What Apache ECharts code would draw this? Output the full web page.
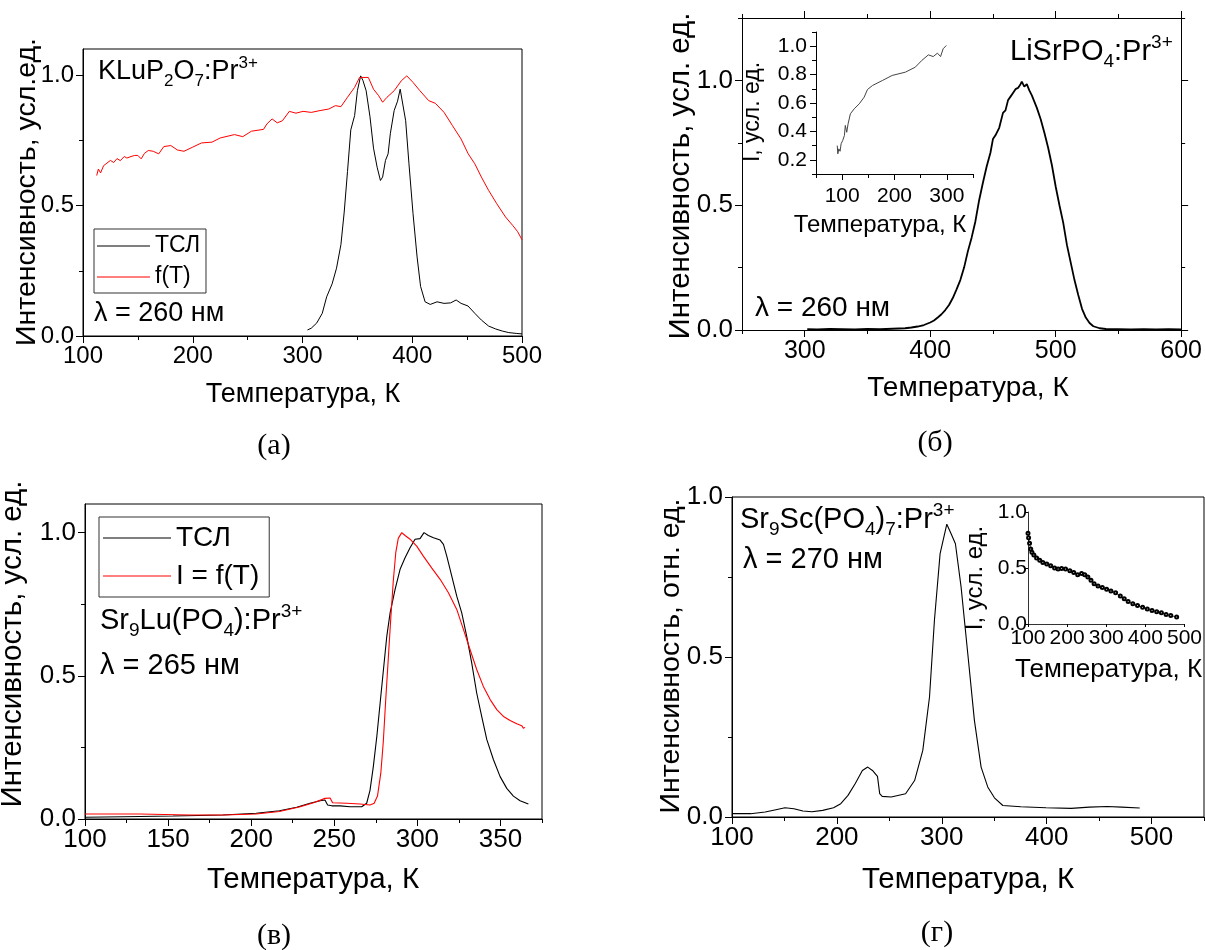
<!DOCTYPE html>
<html><head><meta charset="utf-8">
<script src="https://cdn.jsdelivr.net/npm/echarts@6/dist/echarts.min.js"></script>
<style>html,body{margin:0;padding:0;background:#fff}#c{width:1205px;height:950px}</style>
</head><body><div id="c"></div>
<script>
// ---------- (а) KLuP2O7:Pr3+ ----------
const aTslT = [304.5,308,313,318,322,327,331,335,338,341,344,347.5,350,353,355,358,361.5,364.7,368,371,373,375.6,378,380,383.5,386.6,389,390.7,394,397,400.7,404.4,407.6,411.7,416.4,422.6,429,435,440,444.5,450.8,457,463,469.6,476,482,488,494.7,500];
const aTslI = [0.023,0.03,0.05,0.087,0.15,0.2,0.26,0.35,0.475,0.63,0.79,0.845,0.94,0.997,0.98,0.94,0.84,0.72,0.647,0.596,0.609,0.673,0.698,0.775,0.864,0.9,0.946,0.943,0.825,0.66,0.469,0.303,0.19,0.131,0.121,0.131,0.125,0.127,0.138,0.125,0.115,0.087,0.061,0.038,0.027,0.019,0.013,0.01,0.008];
const aFT = [112.5,114,116,118.8,121,125,128,131,134,137.6,140,143.8,147,150,153,156,159.5,164,169,173.6,180,186,192,200,208,217.5,225,238,245.6,253.5,264.5,267.6,272.3,277,281.7,288,294,300.5,308,316,324,330,335,341,347.5,352,357,360,364.7,369.4,373,377,383.5,390,395,400.7,407,415,421,429,436.7,444.5,451,457,463,469.6,477,485,491.5,496,500];
const aFI = [0.615,0.64,0.625,0.653,0.66,0.673,0.665,0.68,0.672,0.688,0.682,0.688,0.692,0.692,0.679,0.7,0.711,0.708,0.698,0.726,0.73,0.713,0.708,0.724,0.74,0.743,0.759,0.772,0.764,0.785,0.792,0.813,0.832,0.817,0.825,0.861,0.854,0.861,0.857,0.864,0.87,0.883,0.879,0.915,0.953,0.991,0.991,0.991,0.946,0.921,0.896,0.915,0.94,0.978,0.997,0.972,0.94,0.902,0.892,0.857,0.806,0.755,0.698,0.66,0.609,0.558,0.507,0.456,0.424,0.4,0.369];
// ---------- (б) LiSrPO4:Pr3+ ----------
const bTslT = [302,310,320,330,340,350,360,370,380,385,390,395,400,403,406,409,412,415,418,421,424,427,430,433,436,439,442,445,448,450,452,455,458,460,462,464,466,468,470,472,473,475,477,479,481,483,485,488,491,494,497,500,503,506,509,512,515,518,521,524,527,530,535,540,550,560,570,580,590,600];
const bTslI = [0.003,0.002,0.004,0.003,0.002,0.004,0.003,0.005,0.007,0.01,0.014,0.02,0.03,0.038,0.05,0.063,0.08,0.1,0.128,0.163,0.2,0.25,0.315,0.37,0.435,0.52,0.59,0.655,0.71,0.765,0.78,0.81,0.87,0.88,0.92,0.935,0.95,0.965,0.97,0.985,0.995,0.975,0.985,0.96,0.94,0.915,0.89,0.845,0.79,0.73,0.66,0.575,0.5,0.43,0.34,0.27,0.2,0.14,0.085,0.05,0.028,0.015,0.007,0.004,0.003,0.002,0.003,0.002,0.003,0.002];
const bInT = [90.6,91.7,93.6,96,98,101,104.3,106,108.7,111.3,115.7,123,132.6,142,148.4,157.8,176.6,195.5,220.7,239.6,252,264.7,274,282,288,293,296,299];
const bInI = [0.30,0.242,0.277,0.26,0.313,0.336,0.371,0.442,0.394,0.453,0.524,0.559,0.594,0.641,0.695,0.723,0.758,0.794,0.817,0.852,0.899,0.939,0.927,0.951,0.927,0.982,0.975,1.005];
// ---------- (в) Sr9Lu(PO4):Pr3+ ----------
const cTslT = [100,123,153,183,203,217,227.4,235.4,241.5,244.4,246,248.5,253.5,259.5,266.5,269.5,271.5,273.5,275.6,277.6,279.6,281.6,283.6,286.6,289.6,292.6,295.6,298.6,301.6,304,306.6,309.7,313.7,315.7,317.7,320.7,323.7,326.7,329.7,332.7,335.7,338.7,341.8,345.8,349.8,353.8,357.8,361.8,366.8];
const cTslI = [0.006,0.008,0.0105,0.014,0.02,0.029,0.041,0.055,0.064,0.0665,0.049,0.046,0.046,0.043,0.043,0.055,0.1,0.183,0.288,0.405,0.522,0.638,0.72,0.802,0.872,0.912,0.947,0.977,0.979,1.0,0.99,0.982,0.974,0.959,0.918,0.848,0.778,0.72,0.638,0.545,0.44,0.358,0.277,0.207,0.148,0.107,0.08,0.064,0.0525];
const cFT = [100,133,163,183,203,217,229.5,237.5,244.4,247.5,249,257.5,265.5,271.5,274,276,278,279.5,281,282.5,284,285.5,287,288.5,290.6,292.6,295.6,299.6,303.6,308.6,313.7,318.7,323.7,327.7,331.7,335.7,339.7,343.8,347.8,351.8,355.8,359.8,362.8,363.8,364.8];
const cFI = [0.0175,0.0175,0.014,0.014,0.0175,0.026,0.043,0.057,0.072,0.0735,0.057,0.055,0.0525,0.049,0.055,0.08,0.16,0.27,0.42,0.56,0.7,0.83,0.93,0.98,1.0,0.99,0.977,0.953,0.918,0.877,0.837,0.79,0.732,0.662,0.592,0.522,0.463,0.417,0.382,0.358,0.344,0.333,0.326,0.317,0.32];
// ---------- (г) Sr9Sc(PO4)7:Pr3+ ----------
const dTslT = [100,117.9,131.6,141.9,150.5,159,167.6,176.2,186.5,196.8,203.7,210.6,217.4,224.3,229.4,233.9,238.7,240.8,243.2,251.8,265.5,274.1,281.9,288.3,293,298.4,304.8,308.9,313,318.4,324.8,331.1,337.5,343.8,350.2,358.2,375.4,399.4,423.4,440.6,457.8,471.5,488.7];
const dTslI = [0.0104,0.0104,0.0156,0.0229,0.029,0.026,0.0187,0.0166,0.0208,0.029,0.0416,0.0676,0.104,0.1455,0.156,0.1455,0.127,0.073,0.0644,0.0624,0.0728,0.114,0.208,0.375,0.615,0.823,0.915,0.885,0.854,0.719,0.51,0.302,0.156,0.094,0.06,0.036,0.032,0.029,0.027,0.031,0.033,0.031,0.028];
const dInT = [100,101.5,104,107,110,115,122,130,138,148,158,168,177,186,196,207,217,227,237,245,253,261,269,279,290,301,312,324,336,346,356,368,380,393,405,417,429,441,453,465,480];
const dInI = [0.81,0.77,0.72,0.67,0.64,0.615,0.59,0.57,0.55,0.535,0.52,0.5,0.49,0.495,0.49,0.475,0.46,0.44,0.45,0.44,0.42,0.39,0.36,0.34,0.325,0.31,0.295,0.28,0.25,0.225,0.2,0.18,0.165,0.15,0.135,0.12,0.11,0.1,0.085,0.075,0.062];
// ---------- tick values ----------
const aXMajor = [100,200,300,400,500], aXMinor = [150,250,350,450];
const yMajor = [0,0.5,1.0], yMinor = [0.25,0.75];
const bXMajor = [300,400,500,600], bXMinor = [250,350,450,550];
const bYMinor = [0.25,0.75,1.25];
const cXMajor = [100,150,200,250,300,350], cXMinor = [125,175,225,275,325,375];
const dXMajor = [100,200,300,400,500], dXMinor = [150,250,350,450,550];
const biXMajor = [100,200,300], biXMinor = [50,150,250,350];
const biYMajor = [0.2,0.4,0.6,0.8,1.0], biYMinor = [0.1,0.3,0.5,0.7,0.9,1.1];
const diXMajor = [100,200,300,400,500], diYMajor = [0,0.5,1.0];

const FONT = '"Liberation Sans", Arial, sans-serif';
const SERIF = '"Liberation Serif", "Times New Roman", serif';
const f1 = v => Number(v).toFixed(1);
const f0 = v => String(Math.round(v));
const zip = (xs, ys) => xs.map((x, i) => [x, ys[i]]);

const xA = [], yA = [];
function ax(list, g, pos, min, max, major, minor, labels, fmt, fs, opt) {
  opt = opt || {};
  list.push({
    type: 'value', gridIndex: g, position: pos, min: min, max: max, silent: true,
    splitLine: {show: false},
    axisLine: {show: opt.line !== false, onZero: false, lineStyle: {color: opt.lc || '#000', width: 1}},
    axisTick: {show: !!major, customValues: major || [], length: opt.tl || 7, lineStyle: {color: '#000', width: 1}},
    axisLabel: labels ? {show: true, customValues: labels, formatter: fmt, fontSize: fs, fontFamily: FONT, color: '#000', margin: opt.margin == null ? 8 : opt.margin} : {show: false}
  });
  const idx = list.length - 1;
  if (minor) {
    list.push({
      type: 'value', gridIndex: g, position: pos, min: min, max: max, silent: true,
      splitLine: {show: false}, axisLine: {show: false, onZero: false},
      axisTick: {show: true, customValues: minor, length: opt.ml || 4, lineStyle: {color: '#000', width: 1}},
      axisLabel: {show: false}
    });
  }
  return idx;
}
// (а)
const axA = ax(xA, 0, 'bottom', 100, 500, aXMajor, aXMinor, aXMajor, f0, 24, {margin: 8});
const ayA = ax(yA, 0, 'left', 0, 1.1, yMajor, yMinor, yMajor, f1, 24, {margin: 9});
// (б)
const axB = ax(xA, 1, 'bottom', 250, 600, bXMajor, bXMinor, bXMajor, f0, 25, {margin: 9});
ax(xA, 1, 'top', 250, 600, bXMajor, bXMinor, null);
const ayB = ax(yA, 1, 'left', 0, 1.25, yMajor, bYMinor, yMajor, f1, 26, {margin: 9});
ax(yA, 1, 'right', 0, 1.25, yMajor, bYMinor, null);
// (в)
const axC = ax(xA, 2, 'bottom', 100, 375, cXMajor, cXMinor, cXMajor, f0, 26, {margin: 8});
const ayC = ax(yA, 2, 'left', 0, 1.1, yMajor, yMinor, yMajor, f1, 26, {margin: 9});
// (г)
const axD = ax(xA, 3, 'bottom', 100, 550, dXMajor, dXMinor, dXMajor, f0, 26, {margin: 8});
const ayD = ax(yA, 3, 'left', 0, 1.0, yMajor, yMinor, yMajor, f1, 26, {margin: 9});
// inset (б)
const axBi = ax(xA, 4, 'bottom', 50, 350, biXMajor, biXMinor, biXMajor, f0, 21, {margin: 12, tl: 6, ml: 4});
const ayBi = ax(yA, 4, 'left', 0.1, 1.1, biYMajor, biYMinor, biYMajor, f1, 21, {margin: 9, tl: 6, ml: 4});
// inset (г)
const axDi = ax(xA, 5, 'bottom', 100, 500, diXMajor, null, diXMajor, f0, 21, {margin: 4, tl: 3, lc: '#333'});
const ayDi = ax(yA, 5, 'left', 0, 1.0, diYMajor, null, diYMajor, f1, 21, {margin: 1, tl: 3, lc: '#333'});

function line(name, xs, ys, xi, yi, color, width, extra) {
  return Object.assign({
    type: 'line', name: name, xAxisIndex: xi, yAxisIndex: yi, data: zip(xs, ys),
    symbol: 'none', silent: true, animation: false,
    lineStyle: {color: color, width: width}, itemStyle: {color: color}
  }, extra || {});
}

const frame = {show: true, borderColor: '#000', borderWidth: 1, backgroundColor: 'transparent'};
function rich(fs) {
  return {
    m: {fontSize: fs, fontFamily: FONT, fill: '#000', lineHeight: Math.round(fs * 1.3)},
    b: {fontSize: Math.round(fs * 0.64), fontFamily: FONT, fill: '#000', lineHeight: Math.round(fs * 0.5), verticalAlign: 'bottom'},
    t: {fontSize: Math.round(fs * 0.64), fontFamily: FONT, fill: '#000', lineHeight: Math.round(fs * 0.5), verticalAlign: 'top'}
  };
}
function formula(x, y, str, fs) {
  return {type: 'text', x: x, y: y, silent: true, style: {text: str, rich: rich(fs), align: 'left', verticalAlign: 'middle', fontSize: fs, fontFamily: FONT, fill: '#000'}};
}
function txt(x, y, str, fs, opt) {
  opt = opt || {};
  return {type: 'text', x: x, y: y, rotation: opt.rot || 0, silent: true,
    style: {text: str, fontSize: fs, fontFamily: opt.font || FONT, fill: '#000', align: opt.align || 'center', verticalAlign: 'middle'}};
}
const R = Math.PI / 2;

const option = {
  animation: false,
  backgroundColor: '#fff',
  grid: [
    Object.assign({left: 83, top: 49, width: 439, height: 287}, frame),
    {left: 742, top: 18, width: 452, height: 312, show: false},
    Object.assign({left: 85, top: 504, width: 457, height: 315}, frame),
    Object.assign({left: 732, top: 497, width: 472, height: 320}, frame),
    {left: 816, top: 32, width: 157, height: 142, show: false},
    {left: 1028, top: 512, width: 165, height: 112, show: false}
  ],
  xAxis: xA,
  yAxis: yA,
  legend: [
    {data: ['ТСЛ', 'f(T)'], orient: 'vertical', left: 94, top: 229, padding: [4, 6, 3, 3], itemGap: 5,
     icon: 'rect', itemWidth: 53, itemHeight: 1.2, borderColor: '#333', borderWidth: 1, selectedMode: false,
     textStyle: {fontSize: 23, fontFamily: FONT, color: '#000', lineHeight: 26}},
    {data: ['ТСЛ', 'I = f(T)'], orient: 'vertical', left: 99, top: 517, padding: [5, 10, 5, 4], itemGap: 6,
     icon: 'rect', itemWidth: 68, itemHeight: 1.2, borderColor: '#333', borderWidth: 1, selectedMode: false,
     textStyle: {fontSize: 28, fontFamily: FONT, color: '#000', lineHeight: 32}}
  ],
  series: [
    line('ТСЛ', aTslT, aTslI, axA, ayA, '#000', 1),
    line('f(T)', aFT, aFI, axA, ayA, '#ff0000', 1),
    line('ТСЛ', bTslT, bTslI, axB, ayB, '#000', 1.8),
    line('bInset', bInT, bInI, axBi, ayBi, '#444', 1),
    line('ТСЛ', cTslT, cTslI, axC, ayC, '#000', 1.1),
    line('I = f(T)', cFT, cFI, axC, ayC, '#ff0000', 1.1),
    line('ТСЛ', dTslT, dTslI, axD, ayD, '#000', 1.1),
    line('dInset', dInT, dInI, axDi, ayDi, '#000', 0.7, {symbol: 'emptyCircle', symbolSize: 3, showSymbol: true, itemStyle: {color: '#000', borderColor: '#000', borderWidth: 0.8}})
  ],
  graphic: [
    // axis names
    txt(27, 192, 'Интенсивность, усл.ед.', 28.5, {rot: R}),
    txt(303, 395, 'Температура, К', 27),
    txt(681, 176, 'Интенсивность, усл. ед.', 29.5, {rot: R}),
    txt(968, 388, 'Температура, К', 28),
    txt(13, 644, 'Интенсивность, усл. ед.', 29.5, {rot: R}),
    txt(313, 880, 'Температура, К', 29.5),
    txt(671, 656, 'Интенсивность, отн. ед.', 28.5, {rot: R}),
    txt(968, 880, 'Температура, К', 29.5),
    // inset names
    txt(753, 112, 'I, усл. ед.', 23, {rot: R}),
    txt(880, 225, 'Температура, К', 24),
    txt(975, 578, 'I, усл. ед.', 24, {rot: R}),
    txt(1015, 670, 'Температура, К', 26, {align: 'left'}),
    // annotations
    formula(98, 72, '{m|KLuP}{b|2}{m|O}{b|7}{m|:Pr}{t|3+}', 27),
    txt(94, 314, 'λ = 260 нм', 27, {align: 'left'}),
    formula(1010, 52, '{m|LiSrPO}{b|4}{m|:Pr}{t|3+}', 29),
    txt(755, 308, 'λ = 260 нм', 28, {align: 'left'}),
    formula(100, 621, '{m|Sr}{b|9}{m|Lu(PO}{b|4}{m|):Pr}{t|3+}', 29),
    txt(100, 666, 'λ = 265 нм', 29, {align: 'left'}),
    formula(740, 520, '{m|Sr}{b|9}{m|Sc(PO}{b|4}{m|)}{b|7}{m|:Pr}{t|3+}', 29),
    txt(743, 560, 'λ = 270 нм', 29, {align: 'left'}),
    // captions
    txt(274, 446, '(а)', 30, {font: SERIF}),
    txt(935, 443, '(б)', 30, {font: SERIF}),
    txt(274, 936, '(в)', 30, {font: SERIF}),
    txt(937, 933, '(г)', 30, {font: SERIF})
  ]
};
const chart = echarts.init(document.getElementById('c'), null, {renderer: 'canvas'});
chart.setOption(option);
</script>
</body></html>
